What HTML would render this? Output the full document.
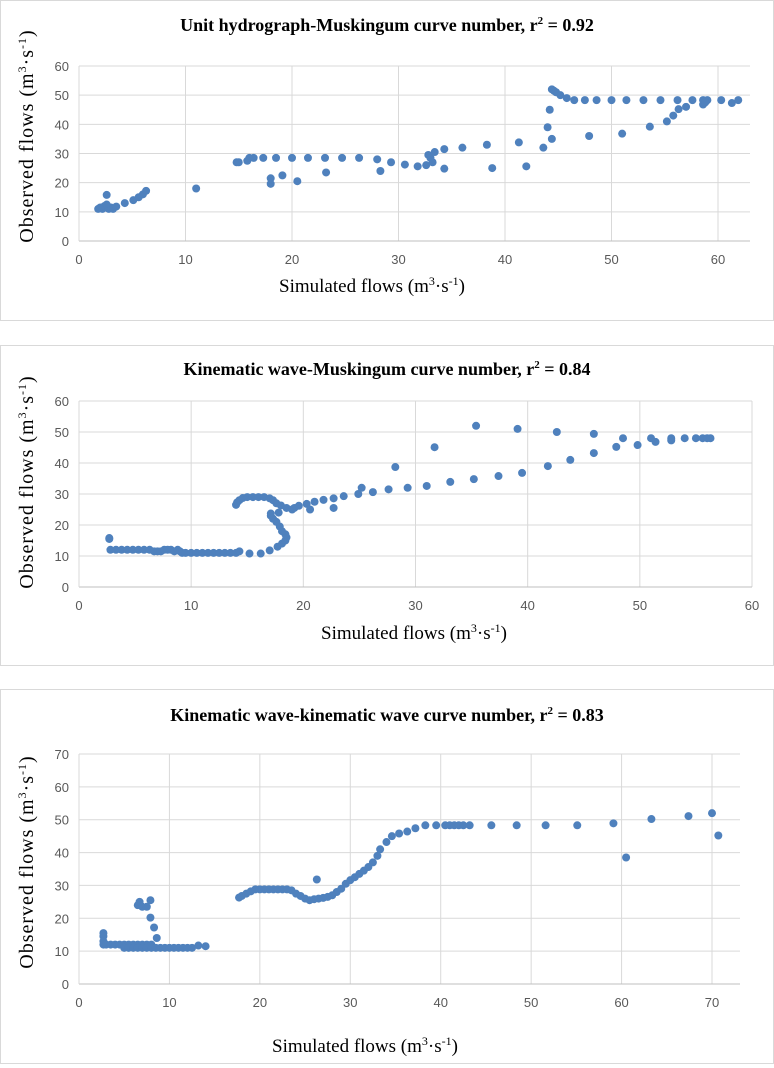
<!DOCTYPE html>
<html><head><meta charset="utf-8"><style>
body{margin:0;background:#fff;width:774px;height:1068px;overflow:hidden}
svg{position:absolute;left:0;top:0}
</style></head><body>
<svg id="s" width="774" height="1068" xmlns="http://www.w3.org/2000/svg"></svg>
<script>
// Chart 1 data
const c1X=[1.8,2,2.2,2.4,2.6,2.8,3,3.2,2.6,3.5,4.3,5.1,5.6,6,6.3,11,14.8,15,15.8,16,16.4,17.3,18.5,20,21.5,23.1,24.7,26.3,28,29.3,30.6,31.8,32.6,32.8,33,33.2,33.4,34.3,36,38.3,41.3,43.6,44,44.2,44.4,44.6,44.8,45.2,45.8,46.5,47.5,48.6,50,51.4,53,54.6,56.2,57.6,58.6,59,60.3,61.3,61.9,18,18,19.1,20.5,23.2,28.3,34.3,38.8,42,44.4,47.9,51,53.6,55.2,55.8,56.3,57,58.6,58.8];
const c1Y=[11,11.5,11,12,12.5,11,11.5,11,15.8,11.8,13,14,15,16,17.2,18,27,27,27.5,28.5,28.5,28.5,28.5,28.5,28.5,28.5,28.5,28.5,28,27,26.2,25.6,26,29.5,28.5,27,30.5,31.5,32,33,33.8,32,39,45,52,51.5,51,50,49,48.3,48.3,48.3,48.3,48.3,48.3,48.3,48.3,48.3,48.3,48.3,48.3,47.3,48.3,21.5,19.6,22.5,20.5,23.5,24,24.8,25,25.6,35,36,36.8,39.2,41,43,45.2,46,46.8,47.5];
// Chart 2 data
const c2X=[2.7,2.7,2.8,3.3,3.8,4.3,4.8,5.3,5.8,6.3,6.7,7,7.3,7.6,7.9,8.2,8.5,8.8,9,9.2,9.5,10,10.5,11,11.5,12,12.5,13,13.5,14,14.3,15.2,16.2,17,17.7,18.1,18.4,18.5,18.4,18.1,17.9,17.6,17.3,17.1,17.1,17.8,14,14.1,14.3,14.6,15,15.5,16,16.5,17,17.3,17.6,18,18.5,19,19.2,19.6,20.3,20.6,21,21.8,22.7,22.7,23.6,24.9,25.2,26.2,27.6,29.3,31,33.1,35.2,37.4,39.5,41.8,43.8,45.9,47.9,49.8,51.4,52.8,28.2,31.7,35.4,39.1,42.6,45.9,48.5,51,52.8,54,55,55.6,56,56.3];
const c2Y=[15.8,15.5,12,12,12,12,12,12,12,12,11.5,11.5,11.5,12,12,12,11.5,12,11.5,11,11,11,11,11,11,11,11,11,11,11,11.5,10.8,10.8,11.8,13,14,15,16,17,18,19.5,21,22,23,23.7,24,26.5,27.3,28,28.7,29,29,29,29,28.6,28,27,26.3,25.5,25,25.5,26.2,26.8,25,27.5,28.1,28.6,25.5,29.3,30,32,30.6,31.5,32,32.6,33.9,34.8,35.8,36.8,39,41,43.2,45.2,45.8,46.8,47.3,38.7,45.1,52,51,50,49.4,48,48,48,48,48,48,48,48];
// Chart 3 data
const c3X=[2.7,2.7,2.7,2.7,3,3.5,4,4.5,5,5.5,6,6.5,7,7.5,8,5,5.5,6,6.5,7,7.5,8,8.5,9,9.5,10,10.5,11,11.5,12,12.5,13.2,14,6.5,6.7,7,7.5,7.9,7.9,8.3,8.6,17.7,18,18.5,19,19.5,20,20.5,21,21.5,22,22.5,23,23.5,24,24.5,25,25.5,26,26.3,26.5,27,27.5,28,28.5,29,29.5,30,30.5,31,31.5,32,32.5,33,33.3,34,34.6,35.4,36.3,37.2,38.3,39.5,40.5,41,41.5,42,42.5,43.2,45.6,48.4,51.6,55.1,59.1,60.5,63.3,67.4,70,70.7];
const c3Y=[15.5,14.5,13,12,12,12,12,12,12,12,12,12,12,12,12,11,11,11,11,11,11,11,11,11,11,11,11,11,11,11,11,11.7,11.5,24,25,23.5,23.5,25.5,20.2,17.2,14,26.3,26.8,27.5,28.2,28.8,28.8,28.8,28.8,28.8,28.8,28.8,28.8,28.5,27.5,26.8,26,25.5,25.8,31.8,26,26.2,26.5,27,28,29,30.5,31.6,32.5,33.5,34.5,35.6,37,39,41,43.2,45,45.8,46.4,47.4,48.3,48.3,48.3,48.3,48.3,48.3,48.3,48.3,48.3,48.3,48.3,48.3,48.9,38.5,50.2,51.1,52,45.2];
const xTicks1=[0,10,20,30,40,50,60], yTicks1=[0,10,20,30,40,50,60];
const xTicks2=[0,10,20,30,40,50,60], yTicks2=[0,10,20,30,40,50,60];
const xTicks3=[0,10,20,30,40,50,60,70], yTicks3=[0,10,20,30,40,50,60,70];

const NS='http://www.w3.org/2000/svg', svg=document.getElementById('s');
function el(t,a,p){const e=document.createElementNS(NS,t);for(const k in a)e.setAttribute(k,a[k]);(p||svg).appendChild(e);return e;}

function chart(cfg){
  const g=el('g',{});
  
  
  const fr=el('rect',{x:0.5,y:cfg.box[0]+0.5,width:773,height:cfg.box[1]-cfg.box[0],fill:'#fff',stroke:'#d9d9d9'},g);
  
  
  const sx=v=>cfg.x0+(v-0)*(cfg.xPx/cfg.xMaxTick);
  const sy=v=>cfg.y0-(v)*(cfg.yPx/cfg.yMaxTick);
  const yTop=sy(cfg.yMaxTick);
  cfg.yt.forEach(v=>{
    if(v>0){const l=el('line',{x1:cfg.x0,x2:cfg.right,y1:sy(v),y2:sy(v),stroke:'#d9d9d9'},g);
    }
    const t=el('text',{x:cfg.x0-10,y:sy(v)+5,'text-anchor':'end','font-size':13,fill:'#595959','font-family':'Liberation Sans, sans-serif'},g);
    t.textContent=v;
  });
  cfg.xt.forEach(v=>{
    if(v>0){const l=el('line',{x1:sx(v),x2:sx(v),y1:yTop,y2:cfg.y0,stroke:'#d9d9d9'},g);
    }
    const t=el('text',{x:sx(v),y:cfg.y0+23,'text-anchor':'middle','font-size':13,fill:'#595959','font-family':'Liberation Sans, sans-serif'},g);
    t.textContent=v;
  });
  const ax=el('line',{x1:cfg.x0,x2:cfg.right,y1:cfg.y0,y2:cfg.y0,stroke:'#bfbfbf'},g);
  
  const ay=el('line',{x1:cfg.x0,x2:cfg.x0,y1:yTop,y2:cfg.y0,stroke:'#d9d9d9'},g);
  
  cfg.xs.forEach((v,i)=>{
    const c=el('circle',{cx:sx(v),cy:sy(cfg.ys[i]),r:4,fill:'#4f81bd'},g);
    
  });
  const ti=el('text',{x:387,y:cfg.titleY,'text-anchor':'middle','font-size':18,'font-weight':'bold','font-family':'Liberation Serif, serif'},g);
  ti.innerHTML=cfg.title+', r<tspan font-size="11" dy="-7">2</tspan><tspan dy="7"> = '+cfg.r+'</tspan>';
  
  const xt=el('text',{x:cfg.xtX,y:cfg.xtY,'text-anchor':'middle','font-size':19,'font-family':'Liberation Serif, serif'},g);
  xt.innerHTML='Simulated flows (m<tspan font-size="12" dy="-7">3</tspan><tspan dy="7">·s</tspan><tspan font-size="12" dy="-7">-1</tspan><tspan dy="7">)</tspan>';
  
  const yt=el('text',{transform:'translate(33,'+cfg.ytY+') rotate(-90)','text-anchor':'middle','font-size':20,'letter-spacing':'1','font-family':'Liberation Serif, serif'},g);
  yt.innerHTML='Observed flows (m<tspan font-size="12" dy="-7">3</tspan><tspan dy="7">·s</tspan><tspan font-size="12" dy="-7">-1</tspan><tspan dy="7">)</tspan>';
  
}
chart({name:'chart-unit-hydrograph',box:[0,320],x0:79,right:750,y0:241,xPx:639,xMaxTick:60,yPx:175,yMaxTick:60,xt:xTicks1,yt:yTicks1,xs:c1X,ys:c1Y,title:'Unit hydrograph-Muskingum curve number',r:'0.92',titleY:31,xtX:372,xtY:292,ytY:136});
chart({name:'chart-kinematic-muskingum',box:[345,665],x0:79,right:752,y0:587,xPx:673,xMaxTick:60,yPx:186,yMaxTick:60,xt:xTicks2,yt:yTicks2,xs:c2X,ys:c2Y,title:'Kinematic wave-Muskingum curve number',r:'0.84',titleY:375,xtX:414,xtY:639,ytY:482});
chart({name:'chart-kinematic-kinematic',box:[689,1063],x0:79,right:740,y0:984,xPx:633,xMaxTick:70,yPx:230,yMaxTick:70,xt:xTicks3,yt:yTicks3,xs:c3X,ys:c3Y,title:'Kinematic wave-kinematic wave curve number',r:'0.83',titleY:721,xtX:365,xtY:1052,ytY:862});
</script>
</body></html>
